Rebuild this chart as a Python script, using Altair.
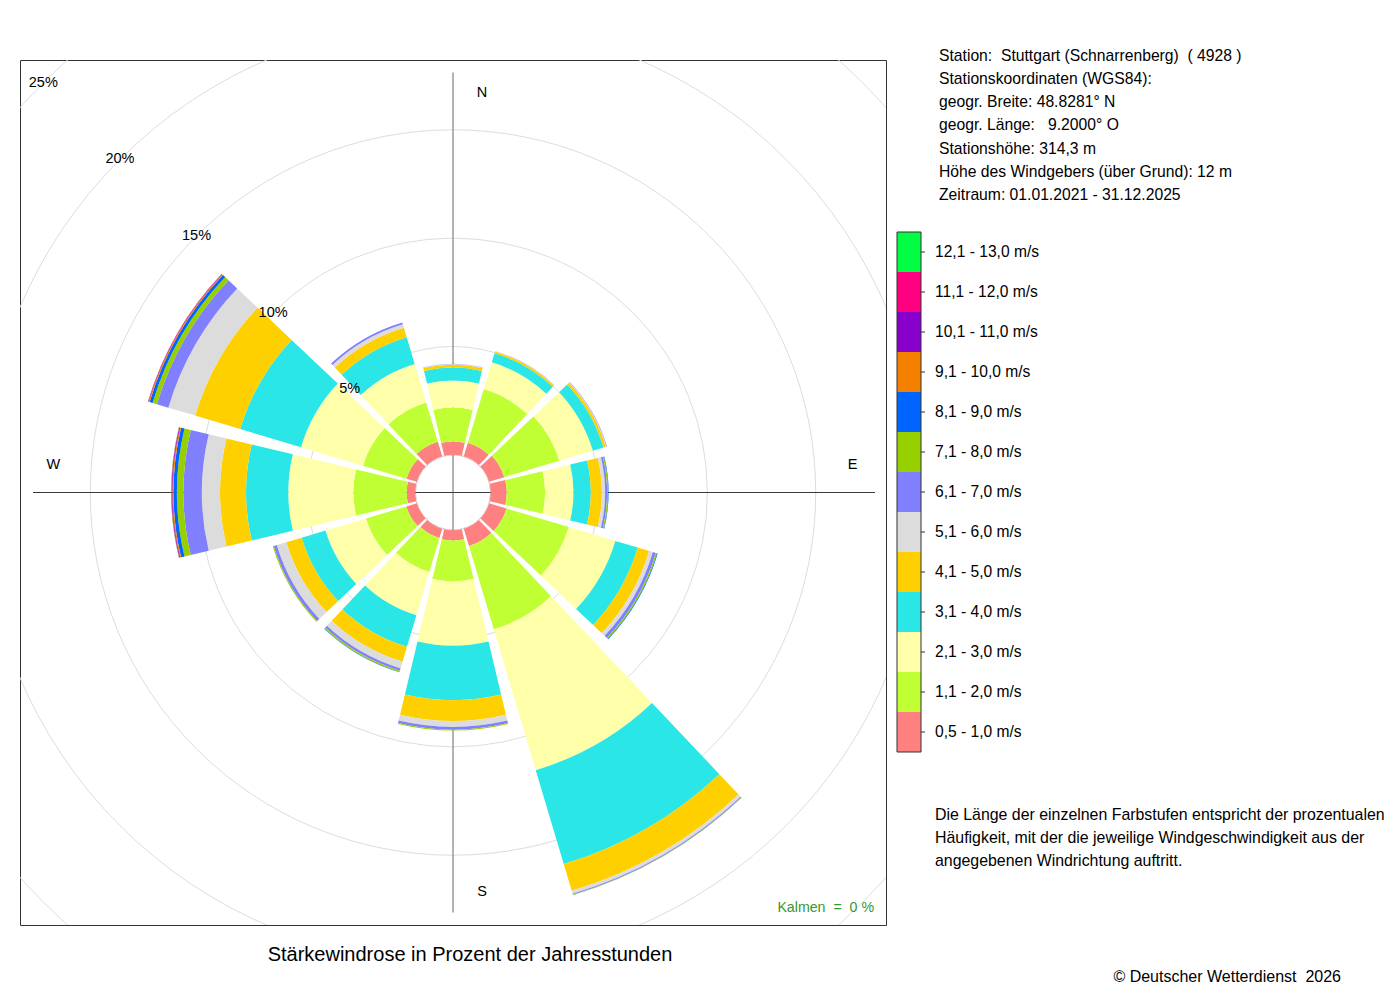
import math
import altair as alt
import pandas as pd

FONT = "Liberation Sans"
NB = "\u00a0"

# ---------------- data ----------------
directions = [0, 30, 60, 90, 120, 150, 180, 210, 240, 270, 300, 330]

classes = [
    "0,5 - 1,0 m/s", "1,1 - 2,0 m/s", "2,1 - 3,0 m/s", "3,1 - 4,0 m/s",
    "4,1 - 5,0 m/s", "5,1 - 6,0 m/s", "6,1 - 7,0 m/s", "7,1 - 8,0 m/s",
    "8,1 - 9,0 m/s", "9,1 - 10,0 m/s", "10,1 - 11,0 m/s", "11,1 - 12,0 m/s",
    "12,1 - 13,0 m/s",
]
colors = [
    "#FF8080", "#C0FF33", "#FFFFAA", "#2AE6E6", "#FFD000", "#DCDCDC", "#8080FF",
    "#96D000", "#0064FF", "#F58000", "#8800CC", "#FF0080", "#00FF44",
]

# percent of hours per speed class (lowest class first) for each direction
freq_000 = [0.61, 1.57, 1.25, 0.60, 0.14, 0.02, 0.01]
freq_030 = [0.66, 2.58, 1.29, 0.44, 0.08, 0.02, 0.01]
freq_060 = [0.73, 2.65, 1.62, 0.51, 0.12, 0.03, 0.02]
freq_090 = [0.74, 1.77, 1.31, 0.80, 0.51, 0.15, 0.09, 0.05, 0.02]
freq_120 = [0.84, 3.00, 2.24, 1.08, 0.55, 0.18, 0.14, 0.06, 0.03]
freq_150 = [0.84, 4.01, 6.78, 4.52, 1.29, 0.14, 0.05, 0.02]
freq_180 = [0.48, 1.88, 2.97, 2.51, 0.96, 0.28, 0.12, 0.04]
freq_210 = [0.45, 1.64, 2.08, 1.52, 0.72, 0.32, 0.11, 0.06, 0.02]
freq_240 = [0.51, 1.94, 1.95, 1.15, 0.74, 0.46, 0.14, 0.05]
freq_270 = [0.40, 2.46, 3.00, 1.95, 1.20, 0.84, 0.85, 0.30, 0.16, 0.05, 0.03, 0.02, 0.01]
freq_300 = [0.50, 2.10, 2.98, 2.93, 2.17, 1.29, 0.55, 0.21, 0.14, 0.05, 0.02, 0.01]
freq_330 = [0.71, 1.89, 1.85, 1.29, 0.46, 0.16, 0.09]
freqs = [freq_000, freq_030, freq_060, freq_090, freq_120, freq_150,
         freq_180, freq_210, freq_240, freq_270, freq_300, freq_330]

ring_pcts = [0, 5, 10, 15, 20, 25]
ring_labels = ["", "5%", "10%", "15%", "20%", "25%"]
compass_ns = ["N", "S"]
compass_ns_dir = [0, 180]
compass_ew = ["E", "W"]
compass_ew_dir = [90, 270]

info_lines = [
    "Station:" + NB + " Stuttgart (Schnarrenberg)" + NB + " ( 4928 )",
    "Stationskoordinaten (WGS84):",
    "geogr. Breite: 48.8281° N",
    "geogr. Länge:" + NB + NB + " 9.2000° O",
    "Stationshöhe: 314,3 m",
    "Höhe des Windgebers (über Grund): 12 m",
    "Zeitraum: 01.01.2021 - 31.12.2025",
]
note_lines = [
    "Die Länge der einzelnen Farbstufen entspricht der prozentualen",
    "Häufigkeit, mit der die jeweilige Windgeschwindigkeit aus der",
    "angegebenen Windrichtung auftritt.",
]
title_text = "Stärkewindrose in Prozent der Jahresstunden"
calm_text = "Kalmen" + NB + " =" + NB + " 0 %"
copyright_text = "© Deutscher Wetterdienst" + NB + " 2026"

# ---------------- tables ----------------
HALF = 13.4  # half angular width of a direction sector (deg)
rows = []
for d, f in zip(directions, freqs):
    cum = 0.0
    for i, v in enumerate(f):
        rows.append({"dir": d, "cls": classes[i], "t0": d - HALF, "t1": d + HALF,
                     "r0": cum, "r1": cum + v})
        cum += v
seg_df = pd.DataFrame(rows)

ring_df = pd.DataFrame({"pct": ring_pcts, "label": ring_labels})
ringlab_df = ring_df[ring_df["label"] != ""].assign(ang=315)
ns_df = pd.DataFrame({"txt": compass_ns, "ang": compass_ns_dir, "rad": 16.7})
ew_df = pd.DataFrame({"txt": compass_ew, "ang": compass_ew_dir, "rad": 16.7})
legend_df = pd.DataFrame({"cls": classes})
one = pd.DataFrame({"a": [0]})

# ---------------- scales ----------------
rscale = alt.Scale(type="linear", domain=[0, 25], range=[37.7, 579.4], zero=False)
tscale = alt.Scale(type="linear", domain=[0, 360], range=[0, 2 * math.pi], zero=False)
cscale = alt.Scale(domain=classes, range=colors)
yleg = alt.Scale(domain=classes[::-1], range=[172, 692], paddingInner=0, paddingOuter=0)

W, H = 866, 865
CX, CY = W / 2, H / 2
AX = 420

rings = alt.Chart(ring_df).mark_arc(
    theta=0, theta2=2 * math.pi, fillOpacity=0, stroke="#dddddd", strokeWidth=1, clip=True
).encode(radius=alt.Radius("pct:Q", scale=rscale, stack=False))

vline = alt.Chart(one).mark_rule(color="#8a8a8a", strokeWidth=1.3).encode(
    x=alt.value(CX), y=alt.value(CY - AX), y2=alt.value(CY + AX))
hline = alt.Chart(one).mark_rule(color="#3a3a3a", strokeWidth=1).encode(
    y=alt.value(CY), x=alt.value(CX - AX), x2=alt.value(CX + AX + 2))

sectors = alt.Chart(seg_df).mark_arc().encode(
    theta=alt.Theta("t0:Q", scale=tscale, stack=False),
    theta2="t1:Q",
    radius=alt.Radius("r0:Q", scale=rscale, stack=False),
    radius2="r1:Q",
    color=alt.Color("cls:N", scale=cscale, legend=None),
)

ringlabels = alt.Chart(ringlab_df).mark_text(
    font=FONT, fontSize=14.5, color="black", align="center", baseline="middle"
).encode(
    theta=alt.Theta("ang:Q", scale=tscale, stack=False),
    radius=alt.Radius("pct:Q", scale=rscale, stack=False),
    text="label:N",
)

ns = alt.Chart(ns_df).mark_text(
    font=FONT, fontSize=14.5, color="black", align="center", baseline="middle", dx=29
).encode(
    theta=alt.Theta("ang:Q", scale=tscale, stack=False),
    radius=alt.Radius("rad:Q", scale=rscale, stack=False),
    text="txt:N",
)
ew = alt.Chart(ew_df).mark_text(
    font=FONT, fontSize=14.5, color="black", align="center", baseline="middle", dy=-28
).encode(
    theta=alt.Theta("ang:Q", scale=tscale, stack=False),
    radius=alt.Radius("rad:Q", scale=rscale, stack=False),
    text="txt:N",
)

calm = alt.Chart(one).mark_text(
    font=FONT, fontSize=14.2, color="#339933", align="right", baseline="middle"
).encode(x=alt.value(854), y=alt.value(848), text=alt.value(calm_text))

# legend (colour bar)
leg_rect = alt.Chart(legend_df).mark_rect().encode(
    x=alt.value(877), x2=alt.value(901),
    y=alt.Y("cls:N", scale=yleg, axis=None),
    color=alt.Color("cls:N", scale=cscale, legend=None),
)
leg_border = alt.Chart(one).mark_rect(fillOpacity=0, stroke="#333333", strokeWidth=1).encode(
    x=alt.value(877), x2=alt.value(901), y=alt.value(172), y2=alt.value(692))
leg_ticks = alt.Chart(legend_df).mark_rule(color="#333333", strokeWidth=1).encode(
    x=alt.value(901), x2=alt.value(905),
    y=alt.Y("cls:N", scale=yleg, axis=None),
)
leg_labels = alt.Chart(legend_df).mark_text(
    font=FONT, fontSize=15.6, color="black", align="left", baseline="middle"
).encode(
    x=alt.value(915),
    y=alt.Y("cls:N", scale=yleg, axis=None),
    text="cls:N",
)

info = alt.Chart(one).mark_text(
    font=FONT, fontSize=15.7, color="black", align="left", baseline="alphabetic", lineHeight=23.2
).encode(x=alt.value(919), y=alt.value(0.8), text=alt.value(info_lines))

note = alt.Chart(one).mark_text(
    font=FONT, fontSize=15.9, color="black", align="left", baseline="alphabetic", lineHeight=23.1
).encode(x=alt.value(915), y=alt.value(759.5), text=alt.value(note_lines))

title = alt.Chart(one).mark_text(
    font=FONT, fontSize=20, color="black", align="center", baseline="alphabetic"
).encode(x=alt.value(450), y=alt.value(901), text=alt.value(title_text))

copyright_ = alt.Chart(one).mark_text(
    font=FONT, fontSize=16, color="black", align="right", baseline="alphabetic"
).encode(x=alt.value(1321), y=alt.value(921.5), text=alt.value(copyright_text))

chart = alt.layer(
    rings, vline, hline, sectors, ringlabels, ns, ew, calm,
    leg_rect, leg_border, leg_ticks, leg_labels, info, note, title, copyright_,
).properties(
    width=W, height=H,
    padding={"left": 12, "top": 52, "right": 506, "bottom": 60},
    autosize=alt.AutoSizeParams(type="none"),
    background="white",
).configure_view(stroke="#333333", strokeWidth=1)

chart.save("out.html", embed_options={"renderer": "svg", "actions": False})
